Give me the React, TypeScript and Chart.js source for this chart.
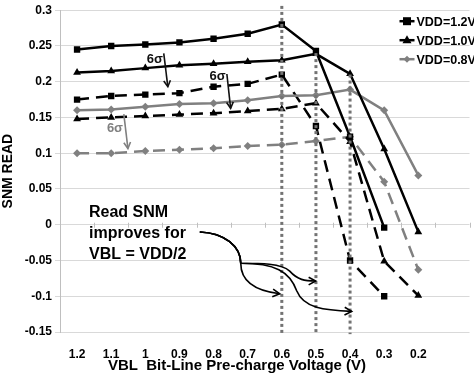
import React, { useEffect, useRef } from "react";
import { Chart, registerables } from "chart.js";

Chart.register(...registerables);

const categories = ["1.2", "1.1", "1", "0.9", "0.8", "0.7", "0.6", "0.5", "0.4", "0.3", "0.2", ""];
const yTicks = [-0.15, -0.1, -0.05, 0, 0.05, 0.1, 0.15, 0.2, 0.25, 0.3];

const vdd12 = [0.245, 0.25, 0.252, 0.255, 0.26, 0.267, 0.28, 0.243, 0.123, -0.004, null, null];
const vdd10 = [0.213, 0.215, 0.219, 0.223, 0.225, 0.228, 0.23, 0.239, 0.211, 0.106, -0.01, null];
const vdd08 = [0.16, 0.161, 0.165, 0.169, 0.17, 0.174, 0.18, 0.181, 0.189, 0.16, 0.069, null];
const vdd12_6s = [0.175, 0.18, 0.182, 0.184, 0.193, 0.197, 0.21, 0.138, -0.05, -0.1, null, null];
const vdd10_6s = [0.148, 0.15, 0.152, 0.154, 0.156, 0.159, 0.162, 0.17, 0.116, -0.051, -0.099, null];
const vdd08_6s = [0.1, 0.1, 0.103, 0.105, 0.107, 0.11, 0.112, 0.117, 0.123, 0.06, -0.063, null];

const legendLabels = ["VDD=1.2V", "VDD=1.0V", "VDD=0.8V"];

// annotations in data units: [category index, value]
const dottedLines = [
  { idx: 6, top: 0.306, bottom: -0.153 },
  { idx: 7, top: 0.24, bottom: -0.153 },
  { idx: 8, top: 0.21, bottom: -0.153 },
];
const sigmaArrows = [
  { from: [2.54, 0.2396], to: [2.66, 0.193], text: [2.28, 0.2314], gray: false },
  { from: [4.39, 0.2108], to: [4.5, 0.1628], text: [4.12, 0.2067], gray: false },
  { from: [1.37, 0.1546], to: [1.49, 0.1066], text: [1.11, 0.134], gray: true },
];
const noteLines = ["Read SNM", "improves for", "VBL = VDD/2"];
const notePos = [0.35, 0.0174, -0.0128, -0.0416];
// cubic segments: start, then [cp1, cp2, end] triples
const curveStart = [3.597, -0.0101];
const curveCommon = [[4.328, -0.0114], [4.797, -0.0306], [4.797, -0.0539]];
const curveA = [
  [[5.353, -0.0539], [5.997, -0.0539], [6.231, -0.0649]],
  [[6.465, -0.0772], [6.67, -0.0787], [6.992, -0.0787]],
];
const curveB = [
  [[5.792, -0.0539], [6.231, -0.0649], [6.436, -0.0924]],
  [[6.641, -0.1171], [7.256, -0.1198], [8.046, -0.1212]],
];
const curveC = [[[4.797, -0.0786], [5.207, -0.0924], [5.938, -0.0965]]];

const BLACK = "#000000";
const GRAY = "#808080";
const FONT = "'Liberation Sans', Arial, sans-serif";

function drawMarker(ctx: CanvasRenderingContext2D, style: string, x: number, y: number, color: string) {
  ctx.save();
  ctx.fillStyle = color;
  ctx.beginPath();
  if (style === "rect") {
    ctx.rect(x - 4, y - 4, 8, 8);
  } else if (style === "triangle") {
    ctx.moveTo(x, y - 5);
    ctx.lineTo(x + 4.5, y + 3);
    ctx.lineTo(x - 4.5, y + 3);
    ctx.closePath();
  } else {
    ctx.moveTo(x, y - 3.5);
    ctx.lineTo(x + 3.5, y);
    ctx.lineTo(x, y + 3.5);
    ctx.lineTo(x - 3.5, y);
    ctx.closePath();
  }
  ctx.fill();
  ctx.restore();
}

function arrowHead(ctx: CanvasRenderingContext2D, fx: number, fy: number, tx: number, ty: number, len: number) {
  const a = Math.atan2(ty - fy, tx - fx);
  const s = 0.5;
  ctx.beginPath();
  ctx.moveTo(tx - len * Math.cos(a - s), ty - len * Math.sin(a - s));
  ctx.lineTo(tx, ty);
  ctx.lineTo(tx - len * Math.cos(a + s), ty - len * Math.sin(a + s));
  ctx.stroke();
}

const annotPlugin = {
  id: "annot",
  afterDatasetsDraw(chart: any) {
    const { ctx, scales, chartArea } = chart;
    const xs = scales.x;
    const ys = scales.y;
    const x0 = xs.getPixelForValue(0);
    const dx = xs.getPixelForValue(1) - x0;
    const px = (i: number) => x0 + i * dx;
    const py = (v: number) => ys.getPixelForValue(v);

    ctx.save();
    // small ticks on zero line
    ctx.strokeStyle = "#bfbfbf";
    ctx.lineWidth = 1;
    const yz = py(0);
    for (let k = 1; k <= categories.length; k++) {
      const xx = Math.round(px(k - 0.5)) + 0.5;
      ctx.beginPath();
      ctx.moveTo(xx, yz - 2);
      ctx.lineTo(xx, yz + 3);
      ctx.stroke();
    }

    // dotted verticals
    ctx.strokeStyle = "#737373";
    ctx.lineWidth = 3;
    ctx.setLineDash([3, 3]);
    dottedLines.forEach((d) => {
      ctx.beginPath();
      ctx.moveTo(px(d.idx), py(d.top));
      ctx.lineTo(px(d.idx), py(d.bottom));
      ctx.stroke();
    });
    ctx.setLineDash([]);

    // 6 sigma arrows
    sigmaArrows.forEach((a) => {
      const col = a.gray ? GRAY : "#111";
      ctx.strokeStyle = col;
      ctx.fillStyle = col;
      ctx.lineWidth = 1.6;
      const fx = px(a.from[0]), fy = py(a.from[1]);
      const tx = px(a.to[0]), ty = py(a.to[1]);
      ctx.beginPath();
      ctx.moveTo(fx, fy);
      ctx.lineTo(tx, ty);
      ctx.stroke();
      arrowHead(ctx, fx, fy, tx, ty, 7);
      ctx.font = `bold 13px ${FONT}`;
      ctx.textAlign = "center";
      ctx.textBaseline = "middle";
      ctx.fillText("6σ", px(a.text[0]), py(a.text[1]));
    });

    // note text
    ctx.fillStyle = "#000";
    ctx.font = `bold 16px ${FONT}`;
    ctx.textAlign = "left";
    ctx.textBaseline = "middle";
    noteLines.forEach((t, i) => ctx.fillText(t, px(notePos[0]), py(notePos[i + 1])));

    // curved arrows
    ctx.strokeStyle = "#000";
    ctx.lineWidth = 1.6;
    const P = (p: number[]) => [px(p[0]), py(p[1])];
    [curveA, curveB, curveC].forEach((branch) => {
      const segs = [curveCommon, ...branch];
      const s0 = P(curveStart);
      ctx.beginPath();
      ctx.moveTo(s0[0], s0[1]);
      segs.forEach((sg) => {
        const c1 = P(sg[0]), c2 = P(sg[1]), e = P(sg[2]);
        ctx.bezierCurveTo(c1[0], c1[1], c2[0], c2[1], e[0], e[1]);
      });
      ctx.stroke();
      const last = segs[segs.length - 1];
      const c2 = P(last[1]), e = P(last[2]);
      arrowHead(ctx, c2[0], c2[1], e[0], e[1], 8);
    });

    // legend
    const styles = ["rect", "triangle", "rectRot"];
    const cols = [BLACK, BLACK, GRAY];
    const lx = chartArea.right - 70;
    ctx.font = `bold 12.5px ${FONT}`;
    ctx.textAlign = "left";
    ctx.textBaseline = "middle";
    legendLabels.forEach((lab, i) => {
      const yy = chartArea.top + 11 + i * 19;
      ctx.strokeStyle = cols[i];
      ctx.lineWidth = 2.5;
      ctx.beginPath();
      ctx.moveTo(lx, yy);
      ctx.lineTo(lx + 15, yy);
      ctx.stroke();
      drawMarker(ctx, styles[i], lx + 7.5, yy, cols[i]);
      ctx.fillStyle = "#000";
      ctx.fillText(lab, lx + 17, yy + 1);
    });

    // x title
    ctx.font = `bold 15px ${FONT}`;
    ctx.textAlign = "center";
    ctx.fillStyle = "#000";
    ctx.fillText("VBL  Bit-Line Pre-charge Voltage (V)", chart.width / 2, chart.height - 7);
    ctx.restore();
  },
};

function ds(label: string, data: (number | null)[], color: string, style: string, dashed: boolean, r: number) {
  return {
    label,
    data,
    borderColor: color,
    backgroundColor: color,
    borderWidth: 2.5,
    borderDash: dashed ? [12, 7] : [],
    pointStyle: style,
    pointRadius: r,
    pointBorderWidth: 0,
    pointBackgroundColor: color,
    tension: 0,
    spanGaps: false,
    fill: false,
  };
}

export default function App() {
  const ref = useRef<HTMLCanvasElement>(null);
  useEffect(() => {
    if (!ref.current) return;
    const chart = new Chart(ref.current, {
      type: "line",
      data: {
        labels: categories,
        datasets: [
          ds("VDD=1.2V", vdd12, BLACK, "rect", false, 4.5),
          ds("VDD=1.0V", vdd10, BLACK, "triangle", false, 4.5),
          ds("VDD=0.8V", vdd08, GRAY, "rectRot", false, 4),
          ds("VDD=1.2V 6σ", vdd12_6s, BLACK, "rect", true, 4.5),
          ds("VDD=1.0V 6σ", vdd10_6s, BLACK, "triangle", true, 4.5),
          ds("VDD=0.8V 6σ", vdd08_6s, GRAY, "rectRot", true, 4),
        ] as any,
      },
      options: {
        responsive: false,
        animation: false,
        layout: { padding: { top: 4, right: 4, left: 0, bottom: 0 } },
        plugins: { legend: { display: false }, tooltip: { enabled: false } },
        scales: {
          x: {
            type: "category",
            offset: true,
            grid: { display: false },
            border: { display: false },
            ticks: { color: "#000", font: { family: FONT, size: 12, weight: "bold" }, padding: 7, maxRotation: 0, autoSkip: false },
            afterFit: (s: any) => { s.height = 41; },
          },
          y: {
            min: yTicks[0],
            max: yTicks[yTicks.length - 1],
            afterBuildTicks: (s: any) => { s.ticks = yTicks.map((v) => ({ value: v })); },
            ticks: {
              color: "#000",
              font: { family: FONT, size: 12, weight: "bold" },
              padding: 3,
              callback: (v: any) => String(parseFloat(Number(v).toFixed(2))),
            },
            grid: { color: "#d9d9d9", tickLength: 5, lineWidth: 1 },
            border: { color: "#bfbfbf" },
            title: { display: true, text: "SNM READ", color: "#000", font: { family: FONT, size: 14, weight: "bold" }, padding: 0 },
            afterFit: (s: any) => { s.width = 60; },
          },
        },
      },
      plugins: [annotPlugin],
    });
    return () => chart.destroy();
  }, []);
  return (
    <div style={{ position: "fixed", left: 0, top: 0, width: 474, height: 373, background: "#fff" }}>
      <canvas ref={ref} width={474} height={373} style={{ display: "block" }} />
    </div>
  );
}
